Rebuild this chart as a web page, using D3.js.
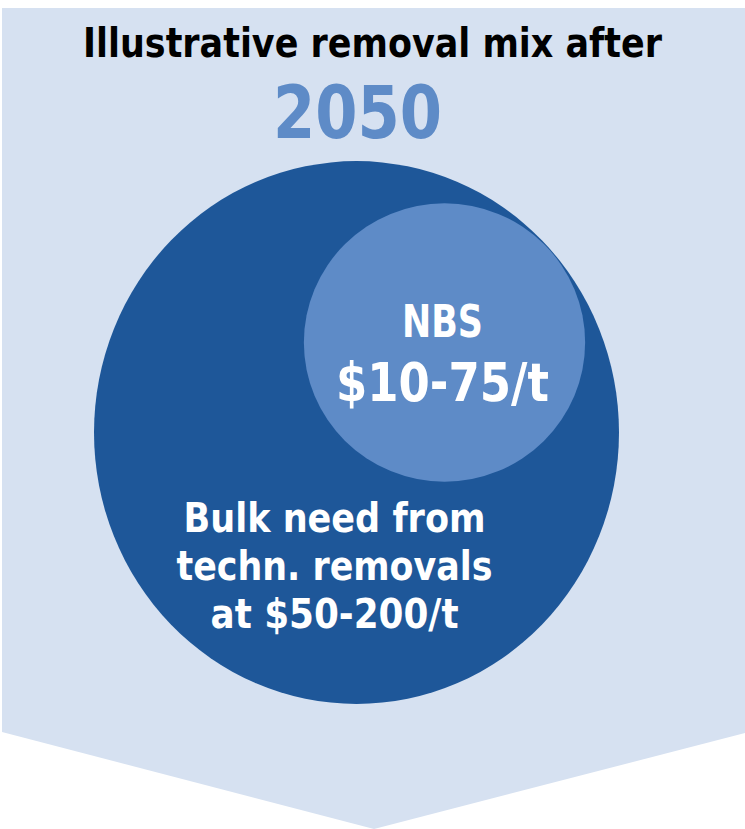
<!DOCTYPE html>
<html>
<head>
<meta charset="utf-8">
<script src="https://cdn.jsdelivr.net/npm/d3@7"></script>
<style>
  html, body { margin: 0; padding: 0; background: #ffffff; }
  svg { display: block; }
</style>
</head>
<body>
<div id="chart"></div>
<script>
// Removal mix: categories, relative volume shares and their labels
const categories = ["Technical removals", "NBS"];
const shares = [1.0, 0.287];
const categoryLabels = [
  ["Bulk need from", "techn. removals", "at $50-200/t"],
  ["NBS", "$10-75/t"]
];
const titleText = "Illustrative removal mix after";
const yearText = "2050";

const W = 745, H = 829;
const colors = {
  panel: "#d6e1f1",
  bulk: "#1e5799",
  nbs: "#5e8bc7",
  year: "#5e8bc7",
  title: "#000000",
  label: "#ffffff"
};
const font = "'DejaVu Sans Condensed', 'DejaVu Sans', sans-serif";

const svg = d3.select("#chart").append("svg")
  .attr("width", W).attr("height", H);

// Chevron-shaped backdrop panel
const panel = d3.path();
panel.moveTo(2, 8);
panel.lineTo(W, 8);
panel.lineTo(W, 733);
panel.lineTo(374, 829);
panel.lineTo(2, 732);
panel.closePath();
svg.append("path").attr("d", panel.toString()).attr("fill", colors.panel);

// Circle radius from share (area-proportional)
const rScale = d3.scaleSqrt().domain([0, 1]).range([0, 262.5]);

// layout per category: centre, vertical stretch, label block
const layout = [
  { cx: 356.5, cy: 432.5, stretch: 1.034, fill: colors.bulk,
    lines: [ { y: 532, size: 40, w: 302 }, { y: 580, size: 40, w: 316 }, { y: 628, size: 40, w: 248 } ],
    tx: 334.5 },
  { cx: 444.5, cy: 342.5, stretch: 0.99, fill: colors.nbs,
    lines: [ { y: 337, size: 44, w: 81 }, { y: 401, size: 53, w: 213 } ],
    tx: 442.5 }
];

const g = svg.append("g");
categories.forEach((c, i) => {
  const L = layout[i];
  const r = rScale(shares[i]);
  g.append("ellipse")
    .attr("cx", L.cx).attr("cy", L.cy)
    .attr("rx", r).attr("ry", r * L.stretch)
    .attr("fill", L.fill);
});

categories.forEach((c, i) => {
  const L = layout[i];
  categoryLabels[i].forEach((t, j) => {
    const ln = L.lines[j];
    g.append("text")
      .attr("x", L.tx).attr("y", ln.y)
      .attr("text-anchor", "middle")
      .attr("font-family", font)
      .attr("font-weight", "bold")
      .attr("font-size", ln.size)
      .attr("textLength", ln.w)
      .attr("lengthAdjust", "spacingAndGlyphs")
      .attr("fill", colors.label)
      .text(t);
  });
});

// Heading
svg.append("text")
  .attr("x", 372.5).attr("y", 57)
  .attr("text-anchor", "middle")
  .attr("font-family", font)
  .attr("font-weight", "bold")
  .attr("font-size", 41)
  .attr("textLength", 579)
  .attr("lengthAdjust", "spacingAndGlyphs")
  .attr("fill", colors.title)
  .text(titleText);

svg.append("text")
  .attr("x", 357.5).attr("y", 138)
  .attr("text-anchor", "middle")
  .attr("font-family", font)
  .attr("font-weight", "bold")
  .attr("font-size", 73)
  .attr("textLength", 169)
  .attr("lengthAdjust", "spacingAndGlyphs")
  .attr("fill", colors.year)
  .text(yearText);
</script>
</body>
</html>
